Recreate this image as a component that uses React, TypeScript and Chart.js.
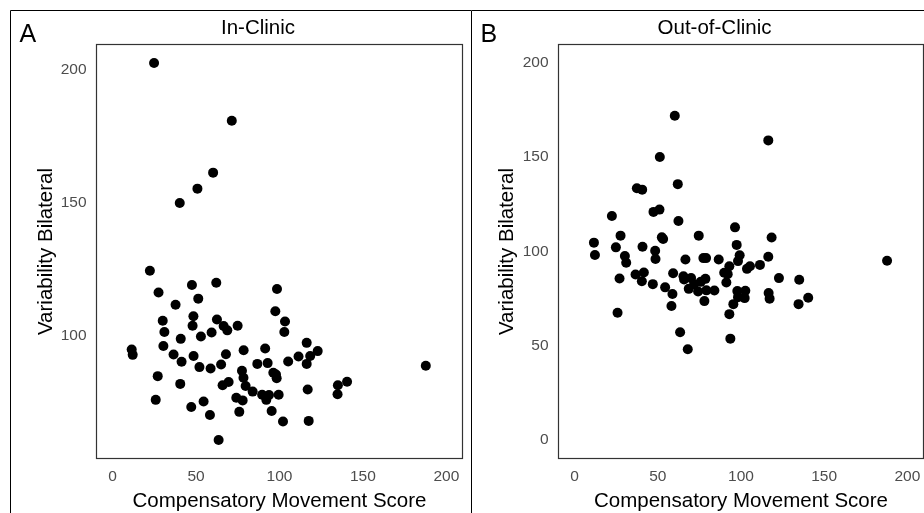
import React, { useEffect, useRef } from "react";
import { Chart, registerables } from "chart.js";

Chart.register(...registerables);

// ---- Data ----
const inClinicX = [
  11.4, 12, 22.3, 24.8, 25.8, 27, 27.5, 30, 30.4, 31, 36.5, 37.7, 40.2, 40.5, 40.8, 41.3,
  47.1, 47.5, 47.9, 48.4, 48.5, 50.8, 51.3, 52, 52.9, 54.5, 58.3, 58.7, 59.3, 60.2, 62.1,
  62.5, 63.5, 65, 65.9, 66.5, 67.9, 68.7, 69.5, 71.4, 74.1, 74.9, 75.9, 77.5, 77.9, 78.4,
  78.5, 79.7, 83.9, 86.7, 89.6, 91.4, 92.1, 92.9, 93.7, 95.3, 96.3, 97.5, 97.9, 98.3, 98.5,
  99.5, 102.1, 102.9, 103.3, 105.2, 111.4, 116.3, 116.3, 116.9, 117.5, 118.4, 122.9, 134.8,
  135, 140.5, 187.7,
];
const inClinicY = [
  95, 93, 124.6, 202.6, 76.1, 85, 116.4, 105.8, 96.3, 101.6, 93.1, 111.8, 150, 82.1, 99, 90.4,
  73.4, 119.2, 103.9, 107.5, 92.6, 155.4, 114.1, 88.4, 99.9, 75.5, 70.4, 87.9, 101.4, 161.4, 120.1,
  106.3, 61, 89.4, 81.6, 103.8, 93.2, 102.2, 82.8, 180.9, 76.9, 103.9, 71.6, 87, 75.9, 84.4,
  94.7, 81.3, 79.2, 89.6, 78, 95.4, 76.1, 89.9, 77.9, 71.9, 86.3, 109.4, 85.6, 84.2, 117.7,
  78, 68, 101.6, 105.5, 90.5, 92.4, 97.5, 89.6, 80, 68.2, 92.6, 94.4, 78.2,
  81.6, 82.9, 88.9,
];

const outClinicX = [
  11.6, 12.2, 22.4, 24.8, 25.8, 27, 27.6, 30.2, 31, 36.6, 37.4, 40.6, 40.8, 41.6, 40.4, 47,
  47.4, 51, 48.4, 48.6, 51.2, 52.4, 53.2, 54.4, 58.2, 58.8, 59.2, 60.2, 62, 62.4, 63.4, 65.4,
  65.8, 66.6, 68, 68.6, 70, 71.8, 74.2, 74.6, 75.8, 77.4, 79, 78.6, 79.2, 78, 84, 86.6, 89.9,
  92, 91.2, 93, 93, 93.6, 95.4, 96.4, 97.4, 98.2, 99.2, 97.8, 98.2, 102.6, 102.2, 103.6, 105.4,
  111.4, 116.4, 116.4, 116.6, 117.2, 118.4, 122.8, 135, 134.6, 140.4, 187.8,
];
const outClinicY = [
  104.7, 98.1, 118.8, 102.2, 67.5, 85.7, 108.4, 97.6, 94, 87.8, 133.5, 132.8, 102.5, 88.9, 84.2, 82.7,
  121, 122.2, 100.4, 96, 150.1, 107.5, 106.6, 81, 71.1, 77.5, 88.5, 172, 135.7, 116.2, 57.2, 86.9,
  85.2, 95.8, 48.2, 80.2, 85.9, 82.6, 78.8, 108.4, 83.9, 96.5, 96.5, 85.5, 79.4, 73.7, 79.3, 95.8, 88.7,
  88, 83.6, 92.2, 66.8, 53.8, 72.1, 112.8, 103.5, 94.9, 98, 79, 75.8, 79.2, 75.3, 90.8, 92.2,
  92.9, 158.9, 97.2, 78, 75, 107.4, 85.9, 85, 72.1, 75.5, 95.1,
];

const xTicks = [0, 50, 100, 150, 200];
const inClinicYTicks = [100, 150, 200];
const outClinicYTicks = [0, 50, 100, 150, 200];
const panelTitles = ["In-Clinic", "Out-of-Clinic"];
const panelLetters = ["A", "B"];
const xAxisTitle = "Compensatory Movement Score";
const yAxisTitle = "Variability Bilateral";

const FONT = "'Liberation Sans', Arial, sans-serif";
const H = 513;

type PanelProps = {
  xs: number[];
  ys: number[];
  yTicks: number[];
  yMin: number;
  yMax: number;
  width: number;
  left: number;
  plotLeft: number;
  plotRight: number;
  letter: string;
  title: string;
  titleX: number;
};

function Panel(p: PanelProps) {
  const ref = useRef<HTMLCanvasElement | null>(null);

  useEffect(() => {
    if (!ref.current) return;
    const deco = {
      id: "deco",
      afterDraw(chart: any) {
        const { ctx, chartArea: ca } = chart;
        ctx.save();
        // plot border
        ctx.strokeStyle = "#333333";
        ctx.lineWidth = 1.2;
        ctx.strokeRect(ca.left + 0.5, ca.top + 0.5, ca.right - ca.left - 1, ca.bottom - ca.top - 1);
        // panel frame
        ctx.strokeStyle = "#000000";
        ctx.lineWidth = 1;
        const fx = p.left === 0 ? 10 : 0;
        ctx.beginPath();
        ctx.moveTo(fx + 0.5, H);
        ctx.lineTo(fx + 0.5, 10.5);
        ctx.lineTo(p.width, 10.5);
        ctx.stroke();
        // letter
        ctx.fillStyle = "#000000";
        ctx.textBaseline = "alphabetic";
        ctx.textAlign = "left";
        ctx.font = `25px ${FONT}`;
        ctx.fillText(p.letter, fx + 9.5, 41.7);
        // panel title
        ctx.textAlign = "center";
        ctx.font = `20.5px ${FONT}`;
        ctx.fillText(p.title, p.titleX, 34);
        // x axis title
        ctx.fillText(xAxisTitle, (ca.left + ca.right) / 2, 507);
        // y axis title
        ctx.translate(fx + 41.5, (ca.top + ca.bottom) / 2);
        ctx.rotate(-Math.PI / 2);
        ctx.fillText(yAxisTitle, 0, 0);
        ctx.restore();
      },
    };

    const tickFont = { family: FONT, size: 15.5 };
    const chart = new Chart(ref.current, {
      type: "scatter",
      data: {
        datasets: [
          {
            data: p.xs.map((x, i) => ({ x, y: p.ys[i] })),
            pointRadius: 5,
            pointHoverRadius: 5,
            pointBackgroundColor: "#000000",
            pointBorderWidth: 0,
            pointBorderColor: "#000000",
          },
        ],
      },
      options: {
        responsive: false,
        animation: false,
        events: [],
        layout: {
          autoPadding: false,
          padding: { left: 0, top: 44, right: p.width - p.plotRight, bottom: 0 },
        },
        plugins: { legend: { display: false }, tooltip: { enabled: false }, title: { display: false } },
        scales: {
          x: {
            type: "linear",
            min: -10,
            max: 210,
            grid: { display: false, drawTicks: false },
            border: { display: false },
            ticks: { color: "#4d4d4d", font: tickFont, padding: 8, maxRotation: 0, autoSkip: false },
            afterBuildTicks: (s: any) => {
              s.ticks = xTicks.map((v) => ({ value: v }));
            },
            afterFit: (s: any) => {
              s.height = H - 459;
            },
          },
          y: {
            type: "linear",
            min: p.yMin,
            max: p.yMax,
            grid: { display: false, drawTicks: false },
            border: { display: false },
            ticks: { color: "#4d4d4d", font: tickFont, padding: 9.5, autoSkip: false },
            afterBuildTicks: (s: any) => {
              s.ticks = p.yTicks.map((v) => ({ value: v }));
            },
            afterFit: (s: any) => {
              s.width = p.plotLeft;
            },
          },
        },
      },
      plugins: [deco],
    } as any);
    return () => chart.destroy();
  }, []);

  return (
    <canvas
      ref={ref}
      width={p.width}
      height={H}
      style={{ position: "absolute", left: p.left, top: 0, width: p.width, height: H }}
    />
  );
}

export default function App() {
  return (
    <div style={{ position: "absolute", left: 0, top: 0, width: 924, height: H, background: "#ffffff", overflow: "hidden" }}>
      <Panel
        xs={inClinicX}
        ys={inClinicY}
        yTicks={inClinicYTicks}
        yMin={53.9}
        yMax={209.7}
        width={471}
        left={0}
        plotLeft={96}
        plotRight={463}
        letter={panelLetters[0]}
        title={panelTitles[0]}
        titleX={258}
      />
      <Panel
        xs={outClinicX}
        ys={outClinicY}
        yTicks={outClinicYTicks}
        yMin={-10}
        yMax={210}
        width={461}
        left={471}
        plotLeft={87}
        plotRight={453}
        letter={panelLetters[1]}
        title={panelTitles[1]}
        titleX={243.5}
      />
    </div>
  );
}
